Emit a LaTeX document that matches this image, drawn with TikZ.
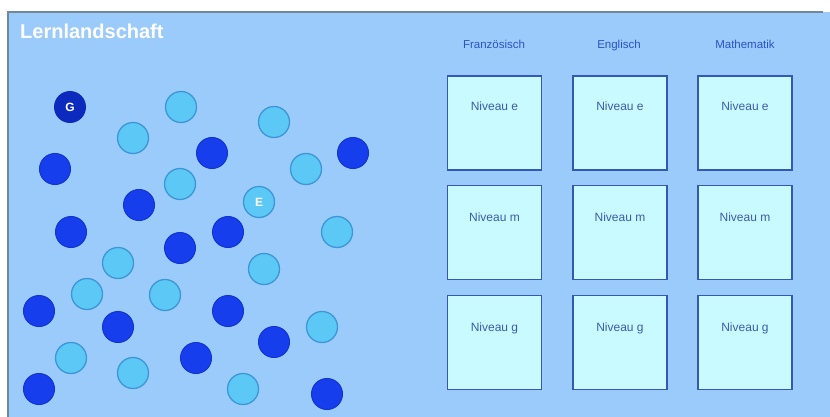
\documentclass[tikz,border=0pt]{standalone}
\usepackage{fontspec}
\setmainfont{Liberation Sans}
\definecolor{panelbg}{RGB}{155,203,250}
\definecolor{panelrim}{RGB}{115,135,155}
\definecolor{darkdot}{RGB}{22,62,236}
\definecolor{darkrim}{RGB}{18,52,210}
\definecolor{navydot}{RGB}{12,42,190}
\definecolor{lightdot}{RGB}{92,200,245}
\definecolor{lightrim}{RGB}{62,150,215}
\definecolor{boxfill}{RGB}{200,250,255}
\definecolor{boxrim}{RGB}{52,88,180}
\definecolor{boxtext}{RGB}{62,92,172}
\definecolor{headtext}{RGB}{42,82,200}
\tikzset{
  dotdark/.style={circle, minimum size=31pt, inner sep=0pt, fill=darkdot, draw=darkrim, line width=1pt},
  dotlight/.style={circle, minimum size=31pt, inner sep=0pt, fill=lightdot, draw=lightrim, line width=1.3pt},
  levelbox/.style={draw=boxrim, fill=boxfill, line width=1.4pt, minimum width=94pt, minimum height=94pt, inner sep=0pt},
  leveltext/.style={text=boxtext, font=\fontsize{12}{13}\selectfont, inner sep=0pt, anchor=base},
  subject/.style={text=headtext, font=\fontsize{11.5}{13}\selectfont, inner sep=0pt, anchor=base}
}
\begin{document}
\begin{tikzpicture}[x=1pt, y=-1pt]
\useasboundingbox (0,0) rectangle (830,417);
\fill[white] (0,0) rectangle (830,417);
% panel
\fill[panelbg] (8,12) rectangle (830,417);
\draw[panelrim, line width=1.2pt] (8,417) -- (8,12) -- (823,12);
\node[anchor=west, text=white, font=\bfseries\fontsize{20}{22}\selectfont, inner sep=0pt] (title) at (20,31) {Lernlandschaft};

% dots
\node[circle, minimum size=32pt, inner sep=0pt, fill=navydot, text=white, font=\bfseries\fontsize{12}{12}\selectfont] (g) at (70,107) {G};
\node[dotlight, text=white, font=\bfseries\fontsize{12}{12}\selectfont] (e) at (259,202) {E};
\foreach \x/\y [count=\i] in {212/153, 353/153, 55/169, 139/205, 71/232, 180/248, 228/232,
   39/311, 228/311, 118/327, 274/342, 196/358, 39/389, 327/394}
  \node[dotdark] (d\i) at (\x,\y) {};
\foreach \x/\y [count=\i] in {181/107, 133/138, 274/122, 306/169, 180/184, 337/232, 118/263,
   264/269, 87/294, 165/295, 322/327, 71/358, 133/373, 243/389}
  \node[dotlight] (l\i) at (\x,\y) {};

% subject columns
\node[subject] (fr) at (494,49) {Französisch};
\node[subject] (en) at (619,49) {Englisch};
\node[subject] (ma) at (745,49) {Mathematik};

\foreach \c/\x in {fr/494.5, en/620, ma/745}{
  \node[levelbox] (\c-e) at (\x,123) {};
  \node[levelbox] (\c-m) at (\x,232.5) {};
  \node[levelbox] (\c-g) at (\x,342.5) {};
  \node[leveltext] (\c-et) at (\x,111) {Niveau e};
  \node[leveltext] (\c-mt) at (\x,221) {Niveau m};
  \node[leveltext] (\c-gt) at (\x,331) {Niveau g};
}
\end{tikzpicture}
\end{document}
